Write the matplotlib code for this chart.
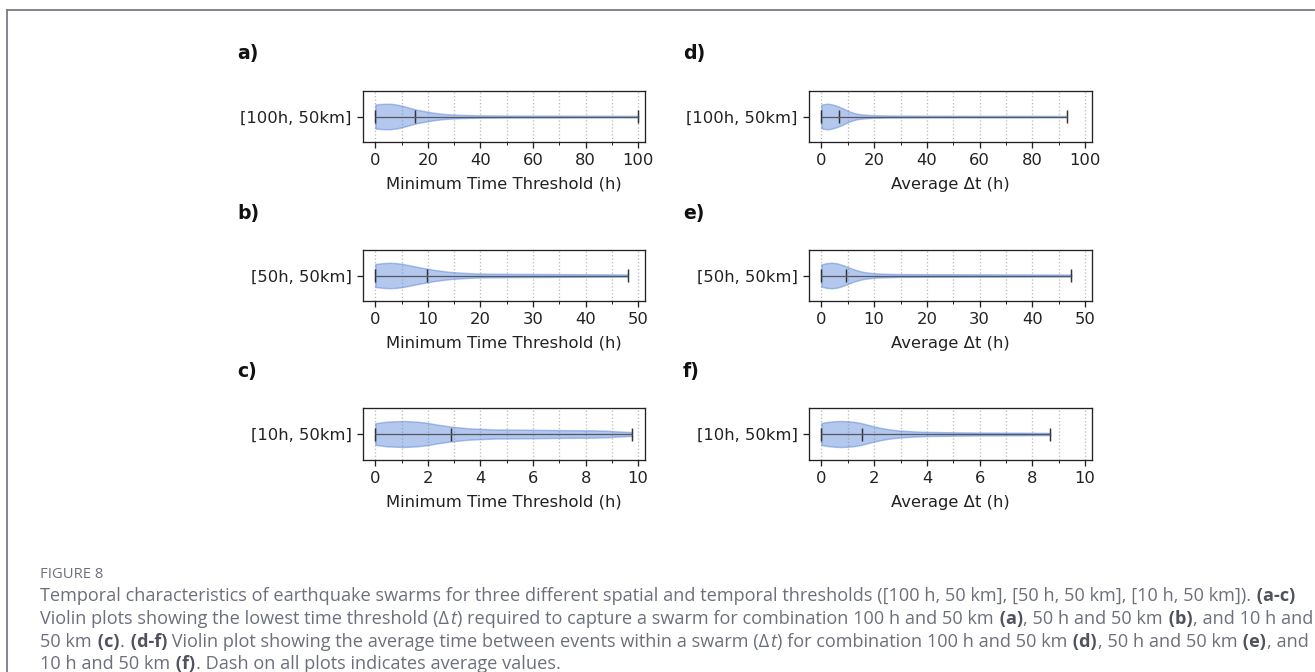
import matplotlib
matplotlib.use("Agg")
import matplotlib.pyplot as plt
from matplotlib.ticker import MultipleLocator
from matplotlib.lines import Line2D
import numpy as np

# ---------------- data ----------------
row_labels = ["[100h, 50km]", "[50h, 50km]", "[10h, 50km]"]
letters_left = ["a)", "b)", "c)"]
letters_right = ["d)", "e)", "f)"]
xlabel_left = "Minimum Time Threshold (h)"
xlabel_right = "Average Δt (h)"
thresholds = [100, 50, 10]

# Minimum time threshold violins (profile = relative density along x)
a_coords = [0, 2, 4, 6, 8, 10, 12, 14, 16, 18, 20, 22, 25, 28, 32, 36, 40, 50, 60, 70, 80, 90, 100]
a_density = [0.94, 0.98, 1.0, 0.99, 0.94, 0.85, 0.74, 0.62, 0.52, 0.44, 0.37, 0.30, 0.22, 0.17,
             0.13, 0.11, 0.09, 0.075, 0.07, 0.065, 0.06, 0.055, 0.05]
a_stats = {"mean": 15.2, "min": 0.0, "max": 100.0}

b_coords = [0, 1.5, 2.8, 4, 5.3, 6.5, 7.8, 9.7, 11.6, 14.2, 16.7, 19.2, 22, 25.5, 30, 38, 44, 48]
b_density = [0.90, 0.97, 1.0, 0.97, 0.90, 0.80, 0.69, 0.54, 0.41, 0.28, 0.21, 0.16, 0.14, 0.13,
             0.12, 0.10, 0.09, 0.08]
b_stats = {"mean": 9.85, "min": 0.0, "max": 48.0}

c_coords = [0, 0.43, 1.06, 1.57, 2.0, 2.33, 2.84, 3.2, 3.6, 4.5, 5.75, 7.0, 8.3, 8.8, 9.2, 9.5, 9.75]
c_density = [0.83, 0.95, 1.0, 0.95, 0.85, 0.73, 0.58, 0.50, 0.43, 0.35, 0.33, 0.30, 0.28, 0.25,
             0.20, 0.17, 0.15]
c_stats = {"mean": 2.86, "min": 0.0, "max": 9.75}

# Average delta-t violins
d_coords = [0, 1, 2, 3, 4, 5, 6, 7, 8, 9, 10, 11, 12, 13, 14, 16, 18, 20, 25, 30, 40, 60, 80, 93]
d_density = [0.93, 0.97, 1.0, 0.99, 0.95, 0.89, 0.82, 0.74, 0.65, 0.55, 0.45, 0.37, 0.30, 0.24,
             0.20, 0.15, 0.12, 0.10, 0.08, 0.07, 0.06, 0.05, 0.05, 0.04]
d_stats = {"mean": 6.5, "min": 0.0, "max": 93.0}

e_coords = [0, 1, 2, 3, 3.5, 4.5, 5.4, 6.3, 7.3, 8.2, 9.2, 10.5, 12.4, 15, 20, 30, 40, 47.4]
e_density = [0.87, 0.97, 1.0, 0.95, 0.89, 0.75, 0.60, 0.46, 0.34, 0.26, 0.21, 0.16, 0.13, 0.11,
             0.10, 0.09, 0.08, 0.07]
e_stats = {"mean": 4.6, "min": 0.0, "max": 47.4}

f_coords = [0, 0.25, 0.5, 0.75, 1.0, 1.25, 1.5, 1.75, 2.0, 2.25, 2.5, 2.75, 3.0, 3.5, 4.0, 5.0,
            6.0, 7.0, 8.0, 8.68]
f_density = [0.84, 0.93, 0.98, 1.0, 0.98, 0.93, 0.84, 0.71, 0.58, 0.47, 0.38, 0.31, 0.26, 0.20,
             0.16, 0.13, 0.11, 0.10, 0.09, 0.08]
f_stats = {"mean": 1.53, "min": 0.0, "max": 8.68}

left_profiles = [(a_coords, a_density, a_stats), (b_coords, b_density, b_stats), (c_coords, c_density, c_stats)]
right_profiles = [(d_coords, d_density, d_stats), (e_coords, e_density, e_stats), (f_coords, f_density, f_stats)]

caption_head = "FIGURE 8"
N, B, I = "n", "b", "i"
caption_lines = [
    [("Temporal characteristics of earthquake swarms for three different spatial and temporal "
      "thresholds ([100 h, 50 km], [50 h, 50 km], [10 h, 50 km]).", N), (" (a-c)", B)],
    [("Violin plots showing the lowest time threshold (Δ", N), ("t", I),
     (") required to capture a swarm for combination 100 h and 50 km", N), (" (a)", B),
     (", 50 h and 50 km", N), (" (b)", B), (", and 10 h and", N)],
    [("50 km", N), (" (c)", B), (".", N), (" (d-f)", B),
     (" Violin plot showing the average time between events within a swarm (Δ", N), ("t", I),
     (") for combination 100 h and 50 km", N), (" (d)", B), (", 50 h and 50 km", N), (" (e)", B),
     (", and", N)],
    [("10 h and 50 km", N), (" (f)", B), (". Dash on all plots indicates average values.", N)],
]

# ---------------- figure ----------------
W, H, DPI = 1315, 672, 118
fig = plt.figure(figsize=(W / DPI, H / DPI), dpi=DPI)
fig.patch.set_facecolor("white")

def px_axes(x0, x1, y0, y1):
    return fig.add_axes([x0 / W, 1 - y1 / H, (x1 - x0) / W, (y1 - y0) / H])

col_x = [(363, 645), (809, 1092)]
row_y = [(91, 142), (250, 301), (408, 460)]

body_face = (0.36, 0.53, 0.86, 0.46)
body_edge = (0.36, 0.53, 0.86, 0.5)

def draw_panel(ax, prof, T, ylabel, xlabel):
    coords, dens, st = prof
    vp = [{"coords": np.asarray(coords, float), "vals": np.asarray(dens, float),
           "mean": st["mean"], "median": st["mean"], "min": st["min"], "max": st["max"]}]
    try:
        parts = ax.violin(vp, positions=[1], orientation="horizontal", widths=0.5,
                          showmeans=True, showextrema=True)
    except TypeError:
        parts = ax.violin(vp, positions=[1], vert=False, widths=0.5,
                          showmeans=True, showextrema=True)
    for body in parts["bodies"]:
        body.set_alpha(None)
        body.set_facecolor(body_face)
        body.set_edgecolor(body_edge)
        body.set_linewidth(0.9)
        body.set_zorder(2)
    for key in ["cmeans", "cmins", "cmaxes"]:
        parts[key].set_color("#333333")
        parts[key].set_linewidth(0.9)
        parts[key].set_zorder(3)
    parts["cbars"].set_color("#555a66")
    parts["cbars"].set_linewidth(0.8)
    parts["cbars"].set_zorder(3)
    ax.set_ylim(0.5, 1.5)
    ax.set_xlim(-0.047 * T, 1.026 * T)
    ax.set_yticks([1], [ylabel])
    ax.xaxis.set_major_locator(MultipleLocator(T / 5))
    ax.xaxis.set_minor_locator(MultipleLocator(T / 10))
    ax.grid(axis="x", which="both", linestyle=":", color="#bdbdbd", linewidth=0.8)
    ax.set_axisbelow(True)
    ax.tick_params(axis="both", which="major", labelsize=10, color="#222222", labelcolor="#222222")
    ax.tick_params(axis="x", which="minor", length=2, color="#222222")
    ax.set_xlabel(xlabel, fontsize=10, color="#222222", labelpad=5)
    for s in ax.spines.values():
        s.set_color("#222222")

for ci, (profiles, letters, xlabel) in enumerate([(left_profiles, letters_left, xlabel_left),
                                                   (right_profiles, letters_right, xlabel_right)]):
    for ri in range(3):
        ax = px_axes(col_x[ci][0], col_x[ci][1], row_y[ri][0], row_y[ri][1])
        draw_panel(ax, profiles[ri], thresholds[ri], row_labels[ri], xlabel)

letter_x = [237, 683]
letter_y = [53, 213, 372]
for ci, letters in enumerate([letters_left, letters_right]):
    for ri in range(3):
        fig.text(letter_x[ci] / W, 1 - letter_y[ri] / H, letters[ri], fontsize=11.5,
                 fontweight="bold", ha="left", va="center", color="#111111")

# frame lines (page border)
frame_col = "#7b7b86"
fig.add_artist(Line2D([7.3 / W, 7.3 / W], [0, 1 - 10.3 / H], transform=fig.transFigure,
                      color=frame_col, linewidth=1.1))
fig.add_artist(Line2D([7.3 / W, 1314 / W], [1 - 10.3 / H, 1 - 10.3 / H], transform=fig.transFigure,
                      color=frame_col, linewidth=1.1))

# caption
cap_family = ["Open Sans", "Lato", "DejaVu Sans"]
cap_col = "#6c6f7d"
cap_bold_col = "#50535f"
cap_size = 11.05
cap_x = 40
fig.text(cap_x / W, 1 - 578 / H, caption_head, fontsize=9.0, family=cap_family, color=cap_col,
         ha="left", va="baseline")

renderer = fig.canvas.get_renderer()
baselines = [601, 624, 647, 669]
for line, yb in zip(caption_lines, baselines):
    x = cap_x
    for txt, sty in line:
        kw = dict(fontsize=cap_size, family=cap_family, ha="left", va="baseline")
        if sty == B:
            kw.update(fontweight="bold", color=cap_bold_col)
        elif sty == I:
            kw.update(fontstyle="italic", color=cap_col)
        else:
            kw.update(color=cap_col)
        t = fig.text(x / W, 1 - yb / H, txt, **kw)
        bb = t.get_window_extent(renderer)
        x += bb.width + (1.0 if not txt.startswith(" ") else 0.5)

fig.savefig("out.png", dpi=DPI, facecolor="white")
